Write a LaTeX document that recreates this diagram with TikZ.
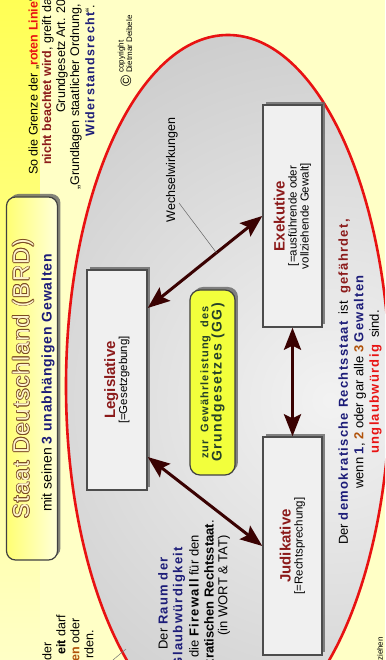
\documentclass[tikz,border=0pt]{standalone}
\usepackage{fontspec}
\setmainfont{Liberation Sans}
\newfontfamily\spaced[LetterSpace=10]{Liberation Sans}
\newfontfamily\hollow[LetterSpace=6]{Liberation Sans}
\usepackage{tikz}
\usetikzlibrary{arrows.meta,shadows,positioning}

\definecolor{paleyellow}{HTML}{FFFFC6}
\definecolor{stripyellow}{HTML}{FFFF55}
\definecolor{boxyellow}{HTML}{F2FF3C}
\definecolor{navy}{HTML}{1C1C78}
\definecolor{darkred}{HTML}{8B1A1A}
\definecolor{linered}{HTML}{E81212}
\definecolor{arrowbrown}{HTML}{3A0202}
\definecolor{ochre}{HTML}{B0520A}
\definecolor{outlinebrown}{HTML}{7A4A22}
\definecolor{titlefill}{HTML}{FFF6CC}
\definecolor{gggreen}{HTML}{24402A}

\newcommand{\hb}[2]{{\spaced\bfseries\color{#1}#2}}

\tikzset{
  schatten/.style={drop shadow={shadow xshift=3pt, shadow yshift=3pt, fill=black!60, opacity=.8}},
  gewalt/.style={draw=black!70, line width=1.4pt, fill=black!6,
    minimum width=220pt, minimum height=60pt, align=center, inner sep=2pt, schatten},
  pfeil/.style={arrowbrown, line width=3pt,
    {Stealth[length=22pt,width=17pt,inset=4pt]}-{Stealth[length=22pt,width=17pt,inset=4pt]}},
  txt/.style={font=\fontsize{12.5}{15}\selectfont, inner sep=0pt},
  txtb/.style={font=\fontsize{13}{15.5}\selectfont, inner sep=0pt}
}

\begin{document}
\begin{tikzpicture}[x=1pt, y=1pt, rotate=90, transform shape]
  \useasboundingbox (0,0) rectangle (660,385);
  \clip (0,0) rectangle (660,385);

  % hintergrund
  \fill[paleyellow] (0,0) rectangle (660,385);
  \shade[top color=stripyellow, bottom color=paleyellow] (0,345) rectangle (660,385);

  % der raum (ellipse)
  \begin{scope}
    \clip (274,157) ellipse [x radius=351pt, y radius=162pt];
    \shade[inner color=black!5, outer color=black!25] (260,55) circle (528pt);
  \end{scope}
  \draw[linered, line width=2.6pt] (274,157) ellipse [x radius=351pt, y radius=162pt];

  % titel
  \node[draw=black!75, line width=1.2pt, rounded corners=9pt, left color=yellow!55, right color=yellow!15,
        minimum width=363pt, minimum height=51pt, schatten] (titelbox) at (281.5,353) {};
  \foreach \dx/\dy [count=\i] in {0.8/0,-0.8/0,0/0.8,0/-0.8,0.55/0.55,-0.55/0.55,0.55/-0.55,-0.55/-0.55}
    \node[font=\fontsize{22.5}{26}\hollow, text=outlinebrown] (titelrand\i) at (281+\dx,362+\dy) {Staat Deutschland (BRD)};
  \node[font=\fontsize{22.5}{26}\hollow, text=titlefill] (titel) at (281,362) {Staat Deutschland (BRD)};
  \node[font=\fontsize{14}{16}\selectfont] (untertitel) at (277,337) {mit seinen {\hollow\bfseries\color{navy}3 unabhängigen Gewalten}};

  % text oben rechts
  \node[txt, anchor=west] (grenze1) at (485,351) {So die Grenze der „\textcolor{linered}{\bfseries roten Linie}“};
  \node[txt, anchor=west] (grenze2) at (495,337) {\textcolor{darkred}{\bfseries nicht beachtet wird}, greift das};
  \node[txt, anchor=west] (grenze3) at (547,323) {Grundgesetz Art. 20};
  \node[txt, anchor=west] (grenze4) at (470,309) {„Grundlagen staatlicher Ordnung,};
  \node[txt, anchor=west] (grenze5) at (523,295) {\hb{navy}{Widerstandsrecht}“.};

  \node[font=\fontsize{15}{15}\selectfont, inner sep=0pt] (copyzeichen) at (579,259) {©};
  \node[anchor=west, align=left, inner sep=0pt, font=\fontsize{8}{8.5}\selectfont] (autor) at (587,260) {copyright\\Dietmar Deibele};

  % reste links oben
  \node[txt, anchor=east] (rest1) at (18,338) {der};
  \node[txt, anchor=east] (rest2) at (45,324) {\textbf{eit} darf};
  \node[txt, anchor=east] (rest3) at (42,310) {\textcolor{ochre}{\bfseries en} oder};
  \node[txt, anchor=east] (rest4) at (30,296) {rden.};
  \node[font=\fontsize{8}{9}\selectfont, inner sep=0pt, anchor=east] (rest5) at (23,5) {ziehen};
  \coordinate (zeigerfuss) at (0,272);
  \coordinate (zeigerkopf) at (11,259);
  \draw[black!55, line width=.5pt] (zeigerfuss) -- (zeigerkopf);

  % raum der glaubwuerdigkeit
  \node[txtb, anchor=east] (raum1) at (103,222) {Der \hb{navy}{Raum der}};
  \node[txtb, anchor=east] (raum2) at (113,206) {\hb{navy}{Glaubwürdigkeit}};
  \node[txtb, anchor=east] (raum3) at (125,191) {die \hb{black}{Firewall} für den};
  \node[txtb, anchor=east] (raum4) at (140,176) {\textbf{kratischen Rechtsstaat}.};
  \node[txtb, anchor=east] (raum5) at (125,161) {(in WORT \& TAT)};

  % die drei gewalten
  \node[gewalt] (leg) at (280,268) {\textcolor{darkred}{\fontsize{15}{17}\selectfont\bfseries Legislative}\\
    {\fontsize{11.5}{13}\selectfont [=Gesetzgebung]}};
  \node[gewalt, minimum width=222pt, minimum height=59pt] (exe) at (444,92.5) {\textcolor{darkred}{\fontsize{15}{17}\selectfont\bfseries Exekutive}\\
    {\fontsize{11.5}{13}\selectfont [=ausführende oder}\\{\fontsize{11.5}{13}\selectfont vollziehende Gewalt]}};
  \node[gewalt, minimum width=218pt, minimum height=59pt] (jud) at (114,92.5) {\textcolor{darkred}{\fontsize{15}{17}\selectfont\bfseries Judikative}\\
    {\fontsize{11.5}{13}\selectfont [=Rechtsprechung]}};

  \node[draw=black!75, line width=1.2pt, rounded corners=10pt, fill=boxyellow, text=gggreen,
        minimum width=185pt, minimum height=45pt, align=center, inner sep=2pt, schatten] (gg) at (277.5,172.5)
    {{\fontsize{11}{12}\selectfont\spaced\bfseries zur\hspace{4pt} Gewährleistung\hspace{4pt} des}\\
     {\fontsize{14}{16}\selectfont\spaced\bfseries Grundgesetzes (GG)}};

  \draw[pfeil] ([xshift=72pt]leg.south) -- coordinate[pos=.6] (wwpunkt) (exe.north);
  \draw[pfeil] ([xshift=-77pt]leg.south) -- (jud.north);
  \draw[pfeil] (jud.east) -- (exe.west);

  \node[txt, inner sep=1pt] (ww) at (490,213) {Wechselwirkungen};
  \draw[black!60, line width=.5pt] ([xshift=-33pt]ww.south) -- (wwpunkt);

  % unten
  \node[txtb, align=center] (gefahr) at (278,25) {Der \hb{navy}{demokratische Rechtsstaat}\ \ ist\ \ \hb{darkred}{gefährdet,}\\
    wenn \hb{navy}{1}, \hb{ochre}{2} oder gar alle \hb{ochre}{3} \hb{navy}{Gewalten}\\
    \hb{linered}{unglaubwürdig}\ \ sind.};
\end{tikzpicture}
\end{document}
